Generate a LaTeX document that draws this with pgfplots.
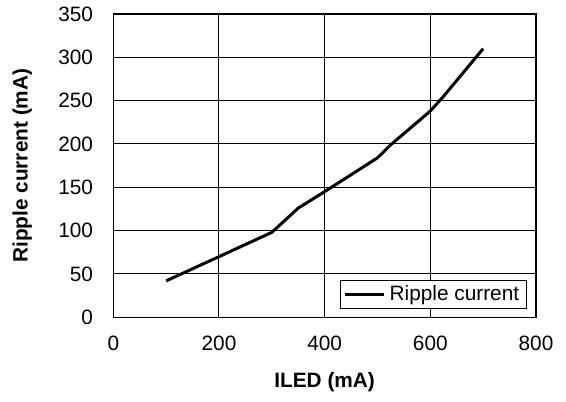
\documentclass[border=0pt]{standalone}
\usepackage{fontspec}
\setmainfont{Liberation Sans}
\usepackage{pgfplots}
\pgfplotsset{compat=1.18}

\begin{document}
\fontsize{10.4pt}{12.5pt}\selectfont
\begin{tikzpicture}
    % page frame, 1 px of the reference = 0.5pt
    \useasboundingbox (-56.65pt,-41.85pt) rectangle (226.35pt,158.65pt);
    \begin{axis}[
        scale only axis,
        width=211.35pt,
        height=151.65pt,
        xmin=0, xmax=800,
        ymin=0, ymax=350,
        xtick={0,200,400,600,800},
        ytick={0,50,100,150,200,250,300,350},
        grid=major,
        grid style={black, line width=0.5pt},
        axis line style={line width=0.6pt},
        major tick length=0pt,
        /pgf/number format/assume math mode=true,
        tick label style={font=\fontsize{10.4pt}{12.5pt}\selectfont},
        xticklabel style={yshift=-5.5pt},
        yticklabel style={xshift=-6.5pt},
        xlabel={\textbf{ILED (mA)}},
        ylabel={\textbf{Ripple current (mA)}},
        label style={font=\fontsize{10.4pt}{12.5pt}\selectfont},
        xlabel style={at={(axis description cs:0.5,-0.2143)}, anchor=center},
        ylabel style={at={(axis description cs:-0.2153,0.5)}, anchor=center},
        legend style={at={(axis description cs:1,0)}, anchor=south east,
            xshift=-4.65pt, yshift=4pt, draw=black, line width=0.5pt,
            inner xsep=1.5pt, inner ysep=0.6pt,
            font=\fontsize{10.4pt}{12.5pt}\selectfont},
        legend cell align=left,
        legend image code/.code={\draw[#1] (0pt,0pt) -- (19.5pt,0pt);},
    ]
    \addplot[black, line width=1.5pt] coordinates {
        (100,42) (200,70) (300,98) (350,126) (400,145)
        (500,184) (525,199) (600,238) (625,255) (700,310)
    };
    \addlegendentry{Ripple current}
    \end{axis}
\end{tikzpicture}
\end{document}
